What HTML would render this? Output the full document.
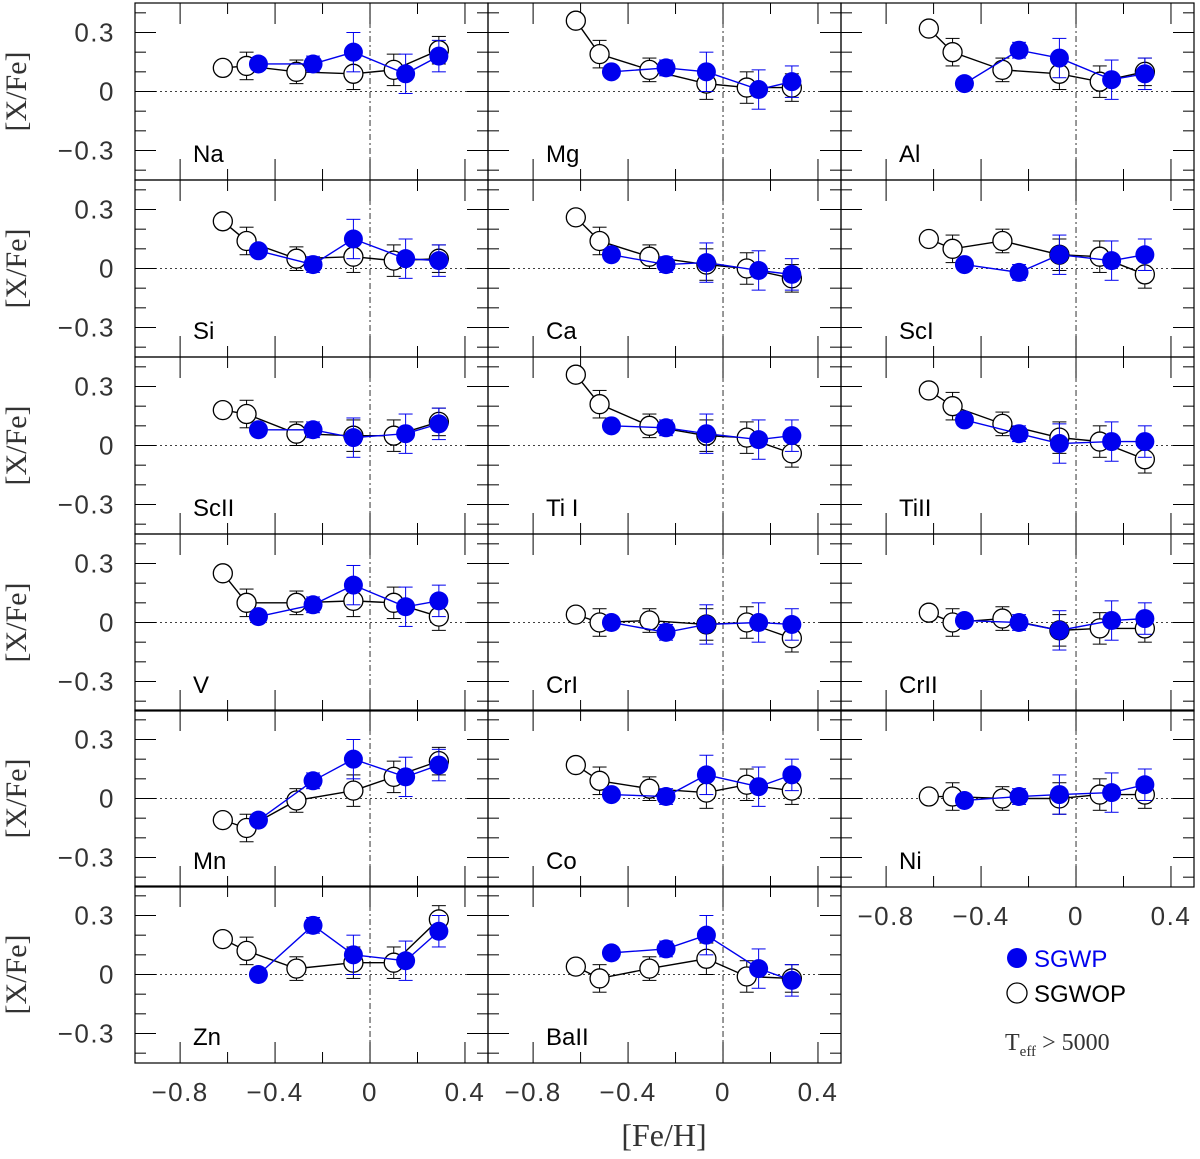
<!DOCTYPE html>
<html><head><meta charset="utf-8"><style>
html,body{margin:0;padding:0;background:#fff;}
svg{display:block;}
text{font-family:"Liberation Sans",sans-serif;}
</style></head><body>
<svg id="chart" width="1200" height="1159" viewBox="0 0 1200 1159" xmlns="http://www.w3.org/2000/svg">
<text x="664" y="1146" font-size="32" fill="#333" text-anchor="middle" style="font-family:'Liberation Serif',serif">[Fe/H]</text>
<g>
<circle cx="1017" cy="958" r="10" fill="#0000ee"/>
<text x="1034" y="967" font-size="24" fill="#0000ee">SGWP</text>
<circle cx="1017" cy="993" r="10" fill="none" stroke="#000" stroke-width="1.3"/>
<text x="1034" y="1002" font-size="24">SGWOP</text>
<text x="1005" y="1050" font-size="24" fill="#333" style="font-family:'Liberation Serif',serif">T<tspan font-size="15" dy="6">eff</tspan><tspan dy="-6"> &gt; 5000</tspan></text>
</g>
</svg>
<script>
const elements=["Na","Mg","Al","Si","Ca","ScI","ScII","Ti I","TiII","V","CrI","CrII","Mn","Co","Ni","Zn","BaII"];
const blackX=[-0.62,-0.52,-0.31,-0.07,0.1,0.29];
const blueX=[-0.47,-0.24,-0.07,0.15,0.29];
const blackY=[
[0.12,0.13,0.10,0.09,0.11,0.21],[0.36,0.19,0.11,0.04,0.02,0.02],[0.32,0.20,0.11,0.09,0.05,0.10],
[0.24,0.14,0.05,0.06,0.04,0.05],[0.26,0.14,0.06,0.02,0.00,-0.05],[0.15,0.10,0.14,0.07,0.06,-0.03],
[0.18,0.16,0.06,0.05,0.05,0.12],[0.36,0.21,0.10,0.05,0.04,-0.04],[0.28,0.20,0.11,0.04,0.02,-0.07],
[0.25,0.10,0.10,0.11,0.10,0.03],[0.04,0.00,0.01,-0.01,0.00,-0.08],[0.05,0.00,0.02,-0.04,-0.03,-0.03],
[-0.11,-0.15,-0.01,0.04,0.11,0.19],[0.17,0.09,0.05,0.03,0.07,0.04],[0.01,0.01,0.00,0.00,0.02,0.02],
[0.18,0.12,0.03,0.06,0.06,0.28],[0.04,-0.02,0.03,0.08,-0.01,-0.02]];
const blackErr=[0.07,0.07,0.06,0.08,0.08,0.07];
const blueY=[
[0.14,0.14,0.20,0.09,0.18],[0.10,0.12,0.10,0.01,0.05],[0.04,0.21,0.17,0.06,0.09],
[0.09,0.02,0.15,0.05,0.04],[0.07,0.02,0.03,-0.01,-0.03],[0.02,-0.02,0.07,0.04,0.07],
[0.08,0.08,0.04,0.06,0.11],[0.10,0.09,0.06,0.03,0.05],[0.13,0.06,0.01,0.02,0.02],
[0.03,0.09,0.19,0.08,0.11],[0.00,-0.05,-0.01,0.00,-0.01],[0.01,0.00,-0.04,0.01,0.02],
[-0.11,0.09,0.20,0.11,0.17],[0.02,0.01,0.12,0.06,0.12],[-0.01,0.01,0.02,0.03,0.07],
[0.00,0.25,0.10,0.07,0.22],[0.11,0.13,0.20,0.03,-0.03]];
const blueErr=[0.03,0.04,0.10,0.10,0.08];
const xTicks=[-0.8,-0.4,0,0.4];
const yTicks=[0.3,0,-0.3];
const NS="http://www.w3.org/2000/svg";
const svg=document.getElementById('chart');
const colX=[135,488,841],rowY=[3,180,357,534,710,886],PW=353,PH=177;
const XMIN=-0.99,XMAX=0.497,YMIN=-0.45,YMAX=0.45;
function mk(tag,attrs,parent){const e=document.createElementNS(NS,tag);for(const k in attrs)e.setAttribute(k,attrs[k]);(parent||svg).appendChild(e);return e;}
function fmt(v){return v===0?"0":(v<0?"\u2212":"")+Math.abs(v).toFixed(1);}
const tickStyle={'font-size':26,fill:'#333','letter-spacing':'1.5'};
elements.forEach((el,i)=>{
 const c=i%3,r=Math.floor(i/3),x0=colX[c],y0=rowY[r];
 const sx=v=>x0+(v-XMIN)/(XMAX-XMIN)*PW, sy=v=>y0+(YMAX-v)/(YMAX-YMIN)*PH;
 const g=mk('g',{});
 
 
 const fr=mk('rect',{x:x0,y:y0,width:PW,height:PH,fill:'none',stroke:'#000','stroke-width':1.2},g);
 
 mk('line',{x1:x0,x2:x0+PW,y1:sy(0),y2:sy(0),stroke:'#000','stroke-width':0.8,'stroke-dasharray':'2,3'},g);
 mk('line',{x1:sx(0),x2:sx(0),y1:y0,y2:y0+PH,stroke:'#000','stroke-width':0.8,'stroke-dasharray':'2,3,6,3'},g);
 for(let k=-4;k<=2;k++){const tv=k*0.2;const L=(k%2===0)?21:11;
  mk('line',{x1:sx(tv),x2:sx(tv),y1:y0,y2:y0+L,stroke:'#000','stroke-width':1},g);
  mk('line',{x1:sx(tv),x2:sx(tv),y1:y0+PH,y2:y0+PH-L,stroke:'#000','stroke-width':1},g);}
 for(let k=-4;k<=4;k++){const tv=k*0.1;const L=(k%3===0)?21:11;
  mk('line',{x1:x0,x2:x0+L,y1:sy(tv),y2:sy(tv),stroke:'#000','stroke-width':1},g);
  mk('line',{x1:x0+PW,x2:x0+PW-L,y1:sy(tv),y2:sy(tv),stroke:'#000','stroke-width':1},g);}
 if(c===0){
  yTicks.forEach(t=>{const tx=mk('text',Object.assign({x:x0-20,y:sy(t)+9,'text-anchor':'end'},tickStyle),g);tx.textContent=fmt(t);
   });
  const yl=mk('text',{x:26,y:y0+PH/2,'font-size':30,fill:'#333','text-anchor':'middle',transform:`rotate(-90 26 ${y0+PH/2})`,style:"font-family:'Liberation Serif',serif"},g);
  yl.textContent='[X/Fe]';
 }
 if(r===5||(r===4&&c===2)){
  xTicks.forEach(t=>{const tx=mk('text',Object.assign({x:sx(t),y:y0+PH+38,'text-anchor':'middle'},tickStyle),g);tx.textContent=fmt(t);
   });
 }
 const lb=mk('text',{x:x0+58,y:y0+159,'font-size':24},g);lb.textContent=el;
 
 const bp=blackX.map((x,j)=>sx(x)+','+sy(blackY[i][j])).join(' ');
 const bl=mk('polyline',{points:bp,fill:'none',stroke:'#000','stroke-width':1.4},g);
 
 blackX.forEach((x,j)=>{const X=sx(x),v=blackY[i][j],e=blackErr[j];
  if(j>0){mk('line',{x1:X,x2:X,y1:sy(v+e),y2:sy(v-e),stroke:'#000','stroke-width':1},g);
   mk('line',{x1:X-7,x2:X+7,y1:sy(v+e),y2:sy(v+e),stroke:'#000','stroke-width':1},g);
   mk('line',{x1:X-7,x2:X+7,y1:sy(v-e),y2:sy(v-e),stroke:'#000','stroke-width':1},g);}
  const p=mk('circle',{cx:X,cy:sy(v),r:9.5,fill:'#fff',stroke:'#000','stroke-width':1.3},g);
  });
 const up=blueX.map((x,j)=>sx(x)+','+sy(blueY[i][j])).join(' ');
 const ul=mk('polyline',{points:up,fill:'none',stroke:'#0000ee','stroke-width':1.4},g);
 
 blueX.forEach((x,j)=>{const X=sx(x),v=blueY[i][j],e=blueErr[j];
  mk('line',{x1:X,x2:X,y1:sy(v+e),y2:sy(v-e),stroke:'#0000ee','stroke-width':1},g);
  mk('line',{x1:X-7,x2:X+7,y1:sy(v+e),y2:sy(v+e),stroke:'#0000ee','stroke-width':1},g);
  mk('line',{x1:X-7,x2:X+7,y1:sy(v-e),y2:sy(v-e),stroke:'#0000ee','stroke-width':1},g);
  const p=mk('circle',{cx:X,cy:sy(v),r:9.5,fill:'#0000ee'},g);
  });
});
</script>
</body></html>
